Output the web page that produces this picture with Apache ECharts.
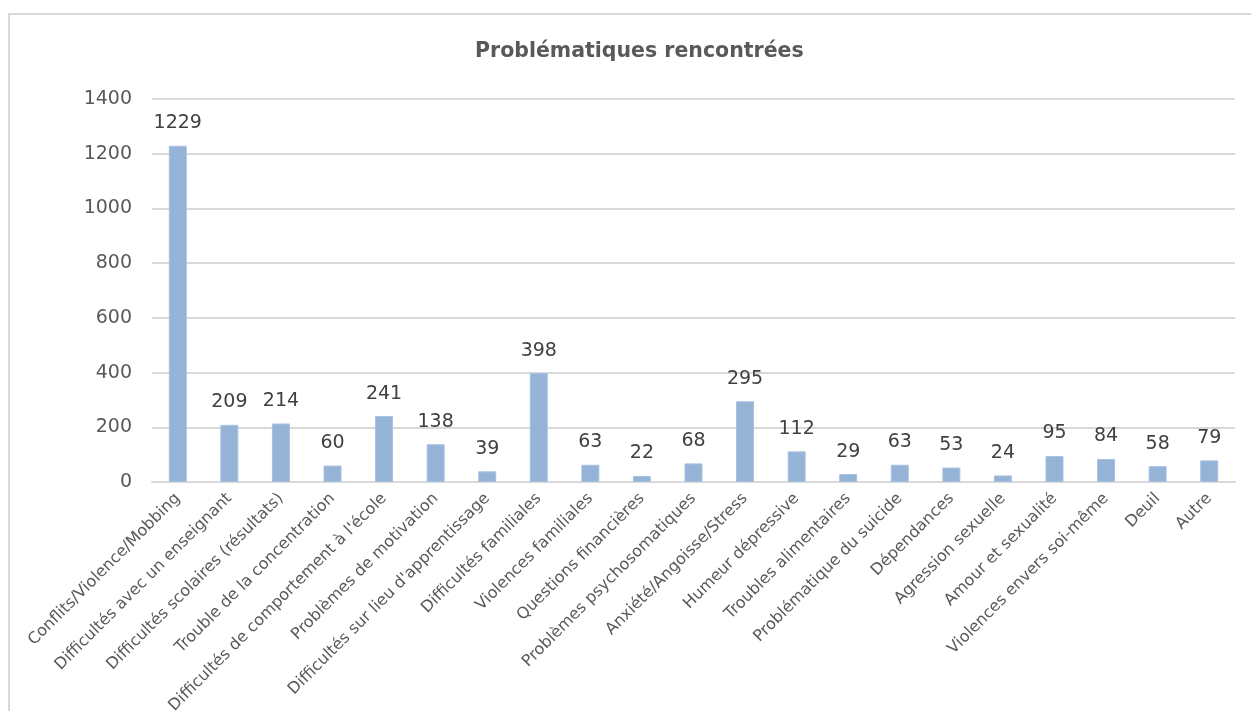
<!DOCTYPE html>
<html>
<head>
<meta charset="utf-8">
<script src="https://cdn.jsdelivr.net/npm/echarts@6/dist/echarts.min.js"></script>
<style>
  html, body { margin: 0; padding: 0; background: #fff; overflow: hidden; }
  .frame {
    position: absolute; left: 8px; top: 13px;
    width: 1300px; height: 800px;
    border: 2px solid #d9d9d9; box-sizing: border-box;
  }
  #chart { position: absolute; left: 0; top: 0; width: 1251px; height: 711px; }
</style>
</head>
<body>
<div class="frame"></div>
<div id="chart"></div>
<script>
// categories (x axis)
const categories = [
  "Conflits/Violence/Mobbing",
  "Difficultés avec un enseignant",
  "Difficultés scolaires (résultats)",
  "Trouble de la concentration",
  "Difficultés de comportement à l'école",
  "Problèmes de motivation",
  "Difficultés sur lieu d'apprentissage",
  "Difficultés familiales",
  "Violences familiales",
  "Questions financières",
  "Problèmes psychosomatiques",
  "Anxiété/Angoisse/Stress",
  "Humeur dépressive",
  "Troubles alimentaires",
  "Problématique du suicide",
  "Dépendances",
  "Agression sexuelle",
  "Amour et sexualité",
  "Violences envers soi-même",
  "Deuil",
  "Autre"
];

// values
const counts = [1229, 209, 214, 60, 241, 138, 39, 398, 63, 22, 68, 295, 112, 29, 63, 53, 24, 95, 84, 58, 79];

// y axis
const yMin = 0;
const yMax = 1400;
const yStep = 200;

const chart = echarts.init(document.getElementById("chart"));

const option = {
  animation: false,
  backgroundColor: "transparent",
  textStyle: { fontFamily: "DejaVu Sans" },
  title: {
    text: "Problématiques rencontrées",
    left: 470,
    top: 36,
    textStyle: { fontSize: 20.5, fontWeight: "bold", color: "#595959", fontFamily: "DejaVu Sans" }
  },
  grid: { left: 152, right: 16, top: 99, bottom: 229, containLabel: false, outerBoundsMode: "none" },
  xAxis: {
    type: "category",
    data: categories,
    axisLine: { lineStyle: { color: "#d9d9d9", width: 2 } },
    axisTick: { show: false },
    axisLabel: {
      interval: 0,
      rotate: 45,
      margin: 14,
      fontSize: 16,
      color: "#595959",
      fontFamily: "DejaVu Sans"
    }
  },
  yAxis: {
    type: "value",
    min: yMin,
    max: yMax,
    interval: yStep,
    axisLine: { show: false },
    axisTick: { show: false },
    axisLabel: {
      fontSize: 19,
      color: "#595959",
      margin: 20,
      fontFamily: "DejaVu Sans",
      formatter: (v) => String(v)
    },
    splitLine: { lineStyle: { color: "#d9d9d9", width: 2 } }
  },
  series: [
    {
      type: "bar",
      data: counts,
      barWidth: 18,
      itemStyle: { color: "#95b3d7", borderColor: "#a9c2df", borderWidth: 1 },
      label: {
        show: true,
        position: "top",
        distance: 13,
        fontSize: 19,
        color: "#404040",
        fontFamily: "DejaVu Sans"
      }
    }
  ]
};

chart.setOption(option);
</script>
</body>
</html>
